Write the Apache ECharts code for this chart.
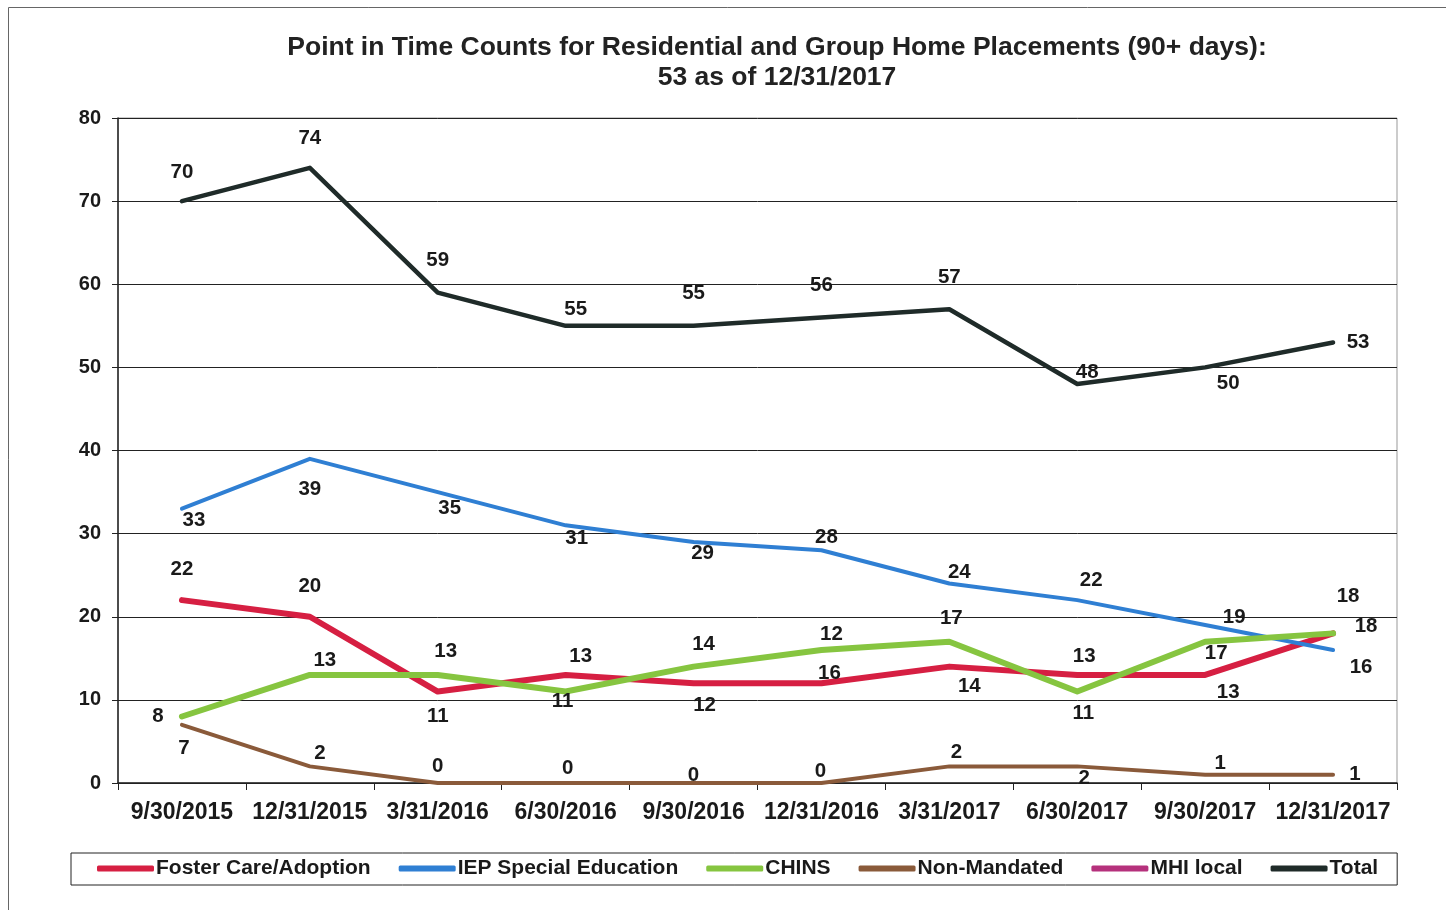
<!DOCTYPE html>
<html>
<head>
<meta charset="utf-8">
<script src="https://cdn.jsdelivr.net/npm/echarts@6/dist/echarts.min.js"></script>
<style>
html,body{margin:0;padding:0;background:#fff;}
#chart{width:1446px;height:910px;}
</style>
</head>
<body>
<div id="chart"></div>
<script>
// ---- data ----
const categories = ['9/30/2015','12/31/2015','3/31/2016','6/30/2016','9/30/2016','12/31/2016','3/31/2017','6/30/2017','9/30/2017','12/31/2017'];
const fosterCare = [22, 20, 11, 13, 12, 12, 14, 13, 13, 18];
const iepSpecialEd = [33, 39, 35, 31, 29, 28, 24, 22, 19, 16];
const chins = [8, 13, 13, 11, 14, 16, 17, 11, 17, 18];
const nonMandated = [7, 2, 0, 0, 0, 0, 2, 2, 1, 1];
const mhiLocal = [];
const total = [70, 74, 59, 55, 55, 56, 57, 48, 50, 53];
const yTicks = [0, 10, 20, 30, 40, 50, 60, 70, 80];

// ---- label placement (pixel offsets from each point) ----
const offFoster = [[0,-31],[0,-30],[0,25],[15,-19],[11,22],[10,-49],[20,20],[7,-19],[23,17],[33,-7]];
const offIep    = [[12,12],[0,31],[12,16],[11,13],[9,11],[5,-13],[10,-11],[14,-20],[29,-8],[28,17]];
const offChins  = [[-24,0],[15,-15],[8,-24],[-3,10],[10,-22],[8,23],[2,-23],[6,22],[11,12],[15,-37]];
const offNonM   = [[2,24],[10,-13],[0,-17],[2,-15],[0,-8],[-1,-12],[7,-14],[7,12],[15,-11],[22,0]];
const offTotal  = [[0,-29],[0,-30],[0,-32],[10,-16],[0,-32],[0,-32],[0,-32],[10,-12],[23,16],[25,0]];

const FONT = '"Liberation Sans", Arial, sans-serif';

function withLabels(values, offsets) {
  return values.map((v, i) => ({
    value: v,
    label: { offset: offsets[i] || [0, 0] }
  }));
}

function lineSeries(name, values, offsets, color, width) {
  return {
    name: name,
    type: 'line',
    data: withLabels(values, offsets),
    symbol: 'circle',
    symbolSize: 0,
    showSymbol: true,
    lineStyle: { color: color, width: width, cap: 'round', join: 'round' },
    itemStyle: { color: color },
    label: {
      show: true,
      position: 'inside',
      color: '#1a1a1a',
      fontFamily: FONT,
      fontWeight: 'bold',
      fontSize: 20.5
    },
    emphasis: { disabled: true },
    animation: false
  };
}

const chart = echarts.init(document.getElementById('chart'));
chart.setOption({
  backgroundColor: '#fff',
  animation: false,
  title: {
    text: 'Point in Time Counts for Residential and Group Home Placements (90+ days):\n53 as of 12/31/2017',
    left: 772,
    top: 28,
    textAlign: 'center',
    textStyle: {
      fontFamily: FONT,
      fontWeight: 'bold',
      fontSize: 26.5,
      color: '#222',
      lineHeight: 30,
      align: 'center'
    }
  },
  graphic: [{
    type: 'rect',
    shape: { x: 8.5, y: 7.5, width: 1500, height: 1000 },
    style: { fill: 'none', stroke: '#666', lineWidth: 1 },
    silent: true,
    z: -10
  }],
  legend: {
    left: 71,
    top: 853,
    padding: [5, 19, 6, 26],
    itemGap: 28,
    itemWidth: 57,
    itemHeight: 6,
    icon: 'roundRect',
    borderColor: '#222',
    borderWidth: 1,
    backgroundColor: '#fff',
    textStyle: {
      fontFamily: FONT,
      fontWeight: 'bold',
      fontSize: 21,
      color: '#1a1a1a',
      padding: [0, 0, 0, -3]
    },
    data: ['Foster Care/Adoption','IEP Special Education','CHINS','Non-Mandated','MHI local','Total']
  },
  grid: {
    left: 118,
    right: 49,
    top: 118,
    bottom: 127,
    show: true,
    borderColor: '#999',
    borderWidth: 1
  },
  xAxis: {
    type: 'category',
    data: categories,
    boundaryGap: true,
    axisLine: { show: true, lineStyle: { color: '#222', width: 1.5 } },
    axisTick: { show: true, length: 7, inside: false, lineStyle: { color: '#222' } },
    axisLabel: {
      fontFamily: FONT,
      fontWeight: 'bold',
      fontSize: 23,
      color: '#1a1a1a',
      margin: 18,
      interval: 0
    }
  },
  yAxis: {
    type: 'value',
    min: yTicks[0],
    max: yTicks[yTicks.length - 1],
    interval: 10,
    axisLine: { show: true, lineStyle: { color: '#222', width: 1.5 } },
    axisTick: { show: true, length: 6, lineStyle: { color: '#222' } },
    axisLabel: {
      fontFamily: FONT,
      fontWeight: 'bold',
      fontSize: 20,
      color: '#1a1a1a',
      margin: 17
    },
    splitLine: { show: true, lineStyle: { color: '#222', width: 1 } }
  },
  series: [
    lineSeries('Foster Care/Adoption', fosterCare, offFoster, '#d61f42', 6),
    lineSeries('IEP Special Education', iepSpecialEd, offIep, '#2f7fd3', 4),
    lineSeries('CHINS', chins, offChins, '#86c540', 6),
    lineSeries('Non-Mandated', nonMandated, offNonM, '#8a5a3a', 4),
    lineSeries('MHI local', mhiLocal, [], '#b5317c', 5),
    lineSeries('Total', total, offTotal, '#1f2b29', 4.5)
  ]
});
</script>
</body>
</html>
